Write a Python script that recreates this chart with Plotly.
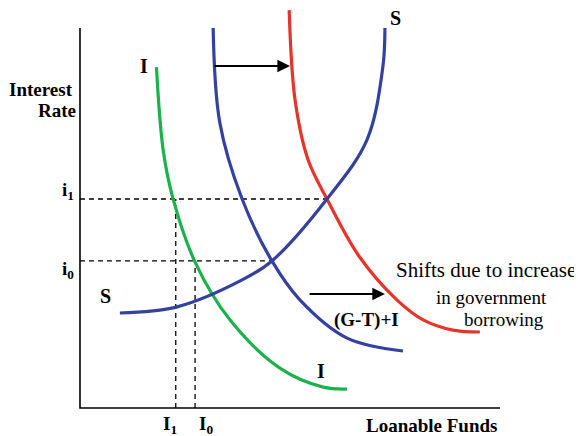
import plotly.graph_objects as go

# 投資曲線 I
invest_x = [18.2, 19.8, 22.1, 27.4, 35.7, 47.6, 57.9, 63.6]
invest_y = [89.7, 67.9, 55.3, 38.4, 23.2, 10.5, 5.5, 5.0]

# 当初の需要 (G-T)+I
demand0_x = [31.7, 33.3, 38.6, 45.7, 52.4, 63.6, 76.9]
demand0_y = [100.0, 75.0, 55.0, 38.7, 28.4, 18.4, 15.0]

# 政府借入増加後の需要
demand1_x = [49.8, 51.2, 54.3, 58.8, 66.4, 75.5, 81.7, 88.8, 95.2]
demand1_y = [104.7, 81.1, 65.3, 55.0, 40.0, 28.4, 23.2, 20.5, 20.0]

# 貯蓄 S
saving_x = [9.5, 23.1, 38.6, 45.7, 58.8, 68.3, 72.1, 72.6]
saving_y = [25.0, 26.6, 33.7, 38.7, 55.0, 70.5, 89.7, 100.0]

# 均衡点
rate_labels = ["i<sub>1</sub>", "i<sub>0</sub>"]
rates = [55.0, 38.7]
rate_ends = [58.8, 45.7]
qty_labels = ["I<sub>1</sub>", "I<sub>0</sub>"]
quantities = [22.8, 27.4]

GREEN = "#1cb24b"
BLUE = "#3441a0"
RED = "#e5352a"
FONT = "Liberation Serif"

fig = go.Figure()

# 軸
fig.add_trace(go.Scatter(x=[0, 0, 100], y=[100, 0, 0], mode="lines",
                         line=dict(color="black", width=1.6)))

# 破線
for r, re_, q in zip(rates, rate_ends, quantities):
    fig.add_trace(go.Scatter(x=[0, re_], y=[r, r], mode="lines",
                             line=dict(color="black", width=1.3, dash="5px,4px")))
    fig.add_trace(go.Scatter(x=[q, q], y=[0, r], mode="lines",
                             line=dict(color="black", width=1.3, dash="5px,4px")))

curves = [
    (invest_x, invest_y, GREEN),
    (demand0_x, demand0_y, BLUE),
    (demand1_x, demand1_y, RED),
    (saving_x, saving_y, BLUE),
]
for cx, cy, col in curves:
    fig.add_trace(go.Scatter(x=cx, y=cy, mode="lines",
                             line=dict(color=col, width=3.2, shape="spline", smoothing=1.0)))

# 矢印
for (x0, x1, y) in [(31.7, 50.0, 90.0), (54.3, 72.6, 30.0)]:
    fig.add_annotation(x=x1, y=y, ax=x0, ay=y, xref="x", yref="y", axref="x", ayref="y",
                       text="", showarrow=True, arrowhead=2, arrowsize=1.4,
                       arrowwidth=1.8, arrowcolor="black")

def label(text, x, y, size=19, bold=True):
    if bold:
        text = "<b>" + text + "</b>"
    fig.add_annotation(x=x, y=y, text=text, showarrow=False,
                       font=dict(family=FONT, size=size, color="black"))

label("Interest", -9.3, 83.9, 19)
label("Rate", -5.4, 78.2, 19)
for t, r in zip(rate_labels, rates):
    label(t, -2.8, r + 2.0 if r > 50 else r - 2.4, 19)
for t, q in zip(qty_labels, [21.4, 30.0]):
    label(t, q, -4.5, 19)
label("S", 6.0, 29.5, 20)
label("S", 75.2, 102.6, 20)
label("I", 15.2, 90.0, 20)
label("I", 57.4, 9.7, 20)
label("Loanable Funds", 83.6, -4.7, 19)
label("(G-T)+I", 68.1, 23.2, 19)
label("Shifts due to increase", 96.7, 36.3, 21, bold=False)
label("in government", 97.9, 29.2, 19, bold=False)
label("borrowing", 101.0, 23.2, 19, bold=False)

# ページ本体の余白 8px を考慮した範囲
fig.update_layout(
    width=574, height=428,
    margin=dict(l=0, r=0, t=0, b=0),
    paper_bgcolor="white", plot_bgcolor="white",
    showlegend=False,
    xaxis=dict(range=[-17.14, 119.52], visible=False, fixedrange=True),
    yaxis=dict(range=[-7.37, 105.26], visible=False, fixedrange=True),
)

fig.write_html("out.html")
